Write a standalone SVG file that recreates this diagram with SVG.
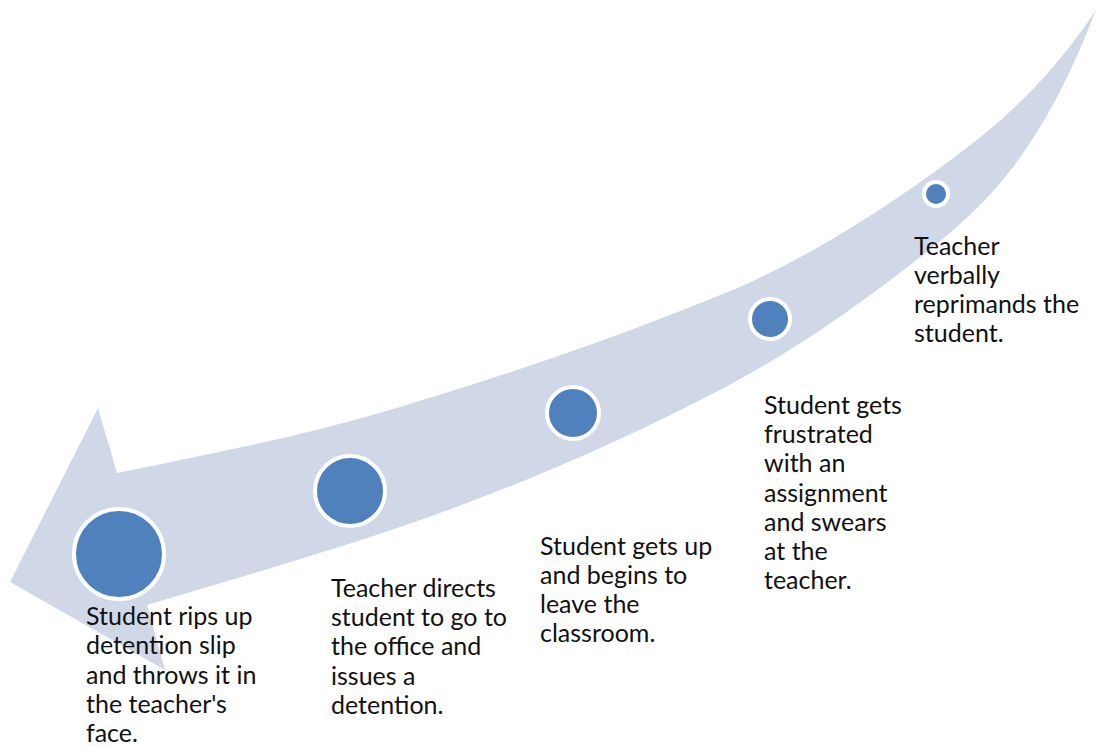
<svg xmlns="http://www.w3.org/2000/svg" width="1096" height="746" viewBox="0 0 1096 746">
  <style>
    .dot { fill: #4F81BD; stroke: #FFFFFF; stroke-width: 4; }
    .lbl { font-family: Lato, "Liberation Sans", sans-serif; font-size: 25px; fill: #111111; }
  </style>
  <rect x="0" y="0" width="1096" height="746" fill="#FFFFFF"/>
  <g id="connectors">
    <path id="timeline-arrow" fill="#D0D8E8"
      d="M1096,10 C1041.7,91.5 987.3,133.9 933,173 C868.7,219.3 804.3,258.1 740,287 C626.7,334 513.3,373 400,407 C305.7,435.3 211.3,454.1 117,473 L98,408 L10,582 L165,670 L147,605 C231.3,579.7 315.7,555.7 400,527 C506.7,490.7 613.3,445.5 720,390 C791,353.1 862,303.8 933,247 C987.3,203.6 1041.7,151 1096,10 Z"/>
  </g>
  <g id="node1">
    <circle class="dot" cx="119" cy="554" r="45"/>
    <text class="lbl" x="86" y="625">Student rips up</text>
    <text class="lbl" x="86" y="654">detention slip</text>
    <text class="lbl" x="86" y="684">and throws it in</text>
    <text class="lbl" x="86" y="713">the teacher's</text>
    <text class="lbl" x="86" y="742">face.</text>
  </g>
  <g id="node2">
    <circle class="dot" cx="350" cy="491" r="35"/>
    <text class="lbl" x="331" y="597">Teacher directs</text>
    <text class="lbl" x="331" y="626">student to go to</text>
    <text class="lbl" x="331" y="655">the office and</text>
    <text class="lbl" x="331" y="685">issues a</text>
    <text class="lbl" x="331" y="714">detention.</text>
  </g>
  <g id="node3">
    <circle class="dot" cx="573" cy="413" r="26"/>
    <text class="lbl" x="540" y="555">Student gets up</text>
    <text class="lbl" x="540" y="584">and begins to</text>
    <text class="lbl" x="540" y="613">leave the</text>
    <text class="lbl" x="540" y="642">classroom.</text>
  </g>
  <g id="node4">
    <circle class="dot" cx="770" cy="319" r="20"/>
    <text class="lbl" x="764" y="414">Student gets</text>
    <text class="lbl" x="764" y="443">frustrated</text>
    <text class="lbl" x="764" y="472">with an</text>
    <text class="lbl" x="764" y="502">assignment</text>
    <text class="lbl" x="764" y="531">and swears</text>
    <text class="lbl" x="764" y="560">at the</text>
    <text class="lbl" x="764" y="589">teacher.</text>
  </g>
  <g id="node5">
    <circle class="dot" cx="936" cy="194" r="12"/>
    <text class="lbl" x="914" y="255">Teacher</text>
    <text class="lbl" x="914" y="284">verbally</text>
    <text class="lbl" x="914" y="313">reprimands the</text>
    <text class="lbl" x="914" y="342">student.</text>
  </g>
</svg>
